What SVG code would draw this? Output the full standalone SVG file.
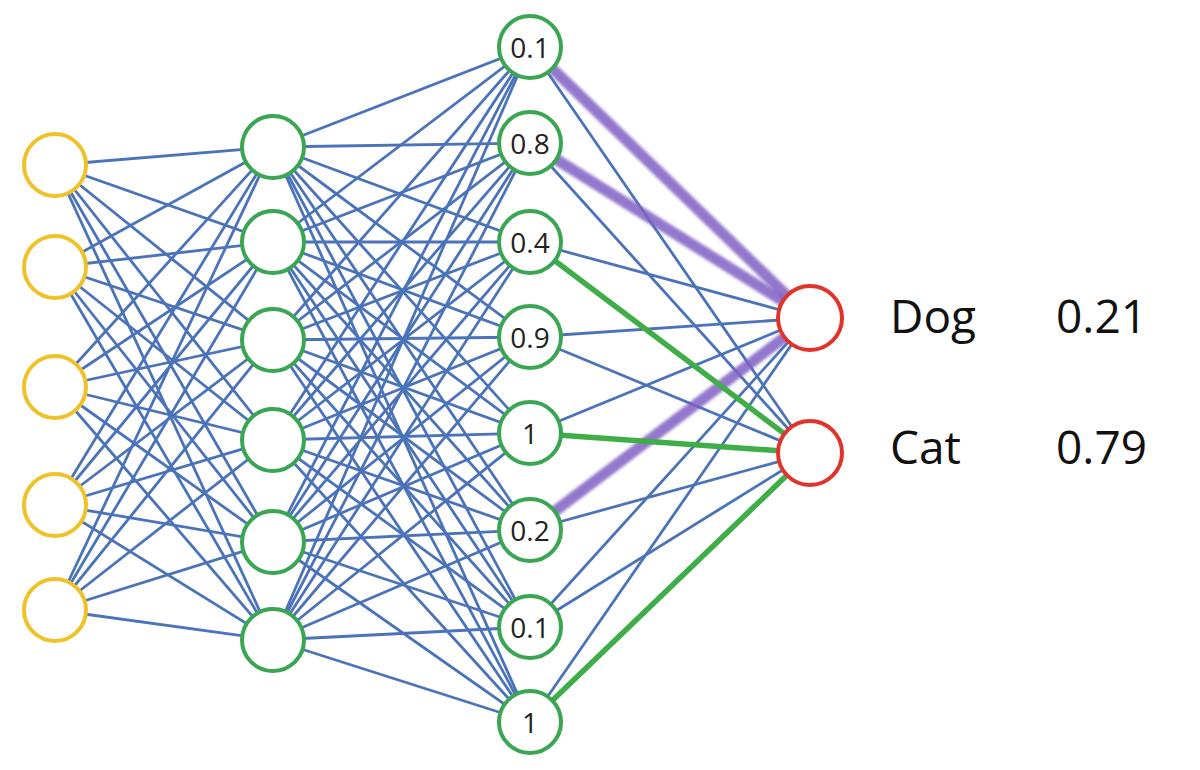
<svg xmlns="http://www.w3.org/2000/svg" width="1200" height="770" viewBox="0 0 1200 770">
<style>
.c line{stroke:#4b73b9;stroke-width:2.8;stroke-linecap:round}
.c line.p{stroke:#8060c4;stroke-width:11;opacity:.85;filter:url(#blur)}
.c line.g{stroke:#3fae48;stroke-width:5.5}
.n circle{fill:#fff;stroke-width:4}
.in circle{stroke:#f0c22a}
.hd circle{stroke:#3aa552}
.out circle{stroke:#e0342b}
.n text{font-family:"Open Sans","Noto Sans",sans-serif;font-size:28px;fill:#222;text-anchor:middle;dominant-baseline:central}
.lbl{font-family:"Open Sans","Noto Sans",sans-serif;font-size:46px;fill:#111}
</style>
<defs><filter id="blur" x="-10%" y="-10%" width="120%" height="120%"><feGaussianBlur stdDeviation="1.8"/></filter></defs>
<rect width="1200" height="770" fill="#fff"/>
<g id="connectors" class="c">
<line x1="55" y1="165" x2="273" y2="147"/><line x1="55" y1="165" x2="273" y2="242"/><line x1="55" y1="165" x2="273" y2="340"/><line x1="55" y1="165" x2="273" y2="440"/><line x1="55" y1="165" x2="273" y2="542"/><line x1="55" y1="165" x2="273" y2="640"/>
<line x1="55" y1="267" x2="273" y2="147"/><line x1="55" y1="267" x2="273" y2="242"/><line x1="55" y1="267" x2="273" y2="340"/><line x1="55" y1="267" x2="273" y2="440"/><line x1="55" y1="267" x2="273" y2="542"/><line x1="55" y1="267" x2="273" y2="640"/>
<line x1="55" y1="387" x2="273" y2="147"/><line x1="55" y1="387" x2="273" y2="242"/><line x1="55" y1="387" x2="273" y2="340"/><line x1="55" y1="387" x2="273" y2="440"/><line x1="55" y1="387" x2="273" y2="542"/><line x1="55" y1="387" x2="273" y2="640"/>
<line x1="55" y1="505" x2="273" y2="147"/><line x1="55" y1="505" x2="273" y2="242"/><line x1="55" y1="505" x2="273" y2="340"/><line x1="55" y1="505" x2="273" y2="440"/><line x1="55" y1="505" x2="273" y2="542"/><line x1="55" y1="505" x2="273" y2="640"/>
<line x1="55" y1="610" x2="273" y2="147"/><line x1="55" y1="610" x2="273" y2="242"/><line x1="55" y1="610" x2="273" y2="340"/><line x1="55" y1="610" x2="273" y2="440"/><line x1="55" y1="610" x2="273" y2="542"/><line x1="55" y1="610" x2="273" y2="640"/>
<line x1="273" y1="147" x2="530" y2="47"/><line x1="273" y1="147" x2="530" y2="143"/><line x1="273" y1="147" x2="530" y2="242"/><line x1="273" y1="147" x2="530" y2="337"/><line x1="273" y1="147" x2="530" y2="433"/><line x1="273" y1="147" x2="530" y2="530"/><line x1="273" y1="147" x2="530" y2="627"/><line x1="273" y1="147" x2="530" y2="722"/>
<line x1="273" y1="242" x2="530" y2="47"/><line x1="273" y1="242" x2="530" y2="143"/><line x1="273" y1="242" x2="530" y2="242"/><line x1="273" y1="242" x2="530" y2="337"/><line x1="273" y1="242" x2="530" y2="433"/><line x1="273" y1="242" x2="530" y2="530"/><line x1="273" y1="242" x2="530" y2="627"/><line x1="273" y1="242" x2="530" y2="722"/>
<line x1="273" y1="340" x2="530" y2="47"/><line x1="273" y1="340" x2="530" y2="143"/><line x1="273" y1="340" x2="530" y2="242"/><line x1="273" y1="340" x2="530" y2="337"/><line x1="273" y1="340" x2="530" y2="433"/><line x1="273" y1="340" x2="530" y2="530"/><line x1="273" y1="340" x2="530" y2="627"/><line x1="273" y1="340" x2="530" y2="722"/>
<line x1="273" y1="440" x2="530" y2="47"/><line x1="273" y1="440" x2="530" y2="143"/><line x1="273" y1="440" x2="530" y2="242"/><line x1="273" y1="440" x2="530" y2="337"/><line x1="273" y1="440" x2="530" y2="433"/><line x1="273" y1="440" x2="530" y2="530"/><line x1="273" y1="440" x2="530" y2="627"/><line x1="273" y1="440" x2="530" y2="722"/>
<line x1="273" y1="542" x2="530" y2="47"/><line x1="273" y1="542" x2="530" y2="143"/><line x1="273" y1="542" x2="530" y2="242"/><line x1="273" y1="542" x2="530" y2="337"/><line x1="273" y1="542" x2="530" y2="433"/><line x1="273" y1="542" x2="530" y2="530"/><line x1="273" y1="542" x2="530" y2="627"/><line x1="273" y1="542" x2="530" y2="722"/>
<line x1="273" y1="640" x2="530" y2="47"/><line x1="273" y1="640" x2="530" y2="143"/><line x1="273" y1="640" x2="530" y2="242"/><line x1="273" y1="640" x2="530" y2="337"/><line x1="273" y1="640" x2="530" y2="433"/><line x1="273" y1="640" x2="530" y2="530"/><line x1="273" y1="640" x2="530" y2="627"/><line x1="273" y1="640" x2="530" y2="722"/>
<line x1="530" y1="47" x2="810" y2="453"/>
<line x1="530" y1="143" x2="810" y2="453"/>
<line x1="530" y1="242" x2="810" y2="318"/>
<line x1="530" y1="337" x2="810" y2="318"/><line x1="530" y1="337" x2="810" y2="453"/>
<line x1="530" y1="433" x2="810" y2="318"/>
<line x1="530" y1="530" x2="810" y2="453"/>
<line x1="530" y1="627" x2="810" y2="318"/><line x1="530" y1="627" x2="810" y2="453"/>
<line x1="530" y1="722" x2="810" y2="318"/>
<line class="p" x1="530" y1="47" x2="810" y2="318"/>
<line class="p" x1="530" y1="143" x2="810" y2="318"/>
<line class="p" x1="530" y1="530" x2="810" y2="318"/>
<line class="g" x1="530" y1="242" x2="810" y2="453"/>
<line class="g" x1="530" y1="433" x2="810" y2="453"/>
<line class="g" x1="530" y1="722" x2="810" y2="453"/>
</g>
<g id="in1" class="n in"><circle cx="55" cy="165" r="31"/></g>
<g id="in2" class="n in"><circle cx="55" cy="267" r="31"/></g>
<g id="in3" class="n in"><circle cx="55" cy="387" r="31"/></g>
<g id="in4" class="n in"><circle cx="55" cy="505" r="31"/></g>
<g id="in5" class="n in"><circle cx="55" cy="610" r="31"/></g>
<g id="h1a" class="n hd"><circle cx="273" cy="147" r="31"/></g>
<g id="h1b" class="n hd"><circle cx="273" cy="242" r="31"/></g>
<g id="h1c" class="n hd"><circle cx="273" cy="340" r="31"/></g>
<g id="h1d" class="n hd"><circle cx="273" cy="440" r="31"/></g>
<g id="h1e" class="n hd"><circle cx="273" cy="542" r="31"/></g>
<g id="h1f" class="n hd"><circle cx="273" cy="640" r="31"/></g>
<g id="h2a" class="n hd"><circle cx="530" cy="47" r="31"/><text x="530" y="47">0.1</text></g>
<g id="h2b" class="n hd"><circle cx="530" cy="143" r="31"/><text x="530" y="143">0.8</text></g>
<g id="h2c" class="n hd"><circle cx="530" cy="242" r="31"/><text x="530" y="242">0.4</text></g>
<g id="h2d" class="n hd"><circle cx="530" cy="337" r="31"/><text x="530" y="337">0.9</text></g>
<g id="h2e" class="n hd"><circle cx="530" cy="433" r="31"/><text x="530" y="433">1</text></g>
<g id="h2f" class="n hd"><circle cx="530" cy="530" r="31"/><text x="530" y="530">0.2</text></g>
<g id="h2g" class="n hd"><circle cx="530" cy="627" r="31"/><text x="530" y="627">0.1</text></g>
<g id="h2h" class="n hd"><circle cx="530" cy="722" r="31"/><text x="530" y="722">1</text></g>
<g id="dog" class="n out"><circle cx="810" cy="318" r="32"/></g>
<g id="cat" class="n out"><circle cx="810" cy="453" r="32"/></g>
<g id="labels">
<text class="lbl" x="890" y="333">Dog</text><text class="lbl" x="1056" y="333">0.21</text>
<text class="lbl" x="890" y="464">Cat</text><text class="lbl" x="1056" y="464">0.79</text>
</g>
</svg>
